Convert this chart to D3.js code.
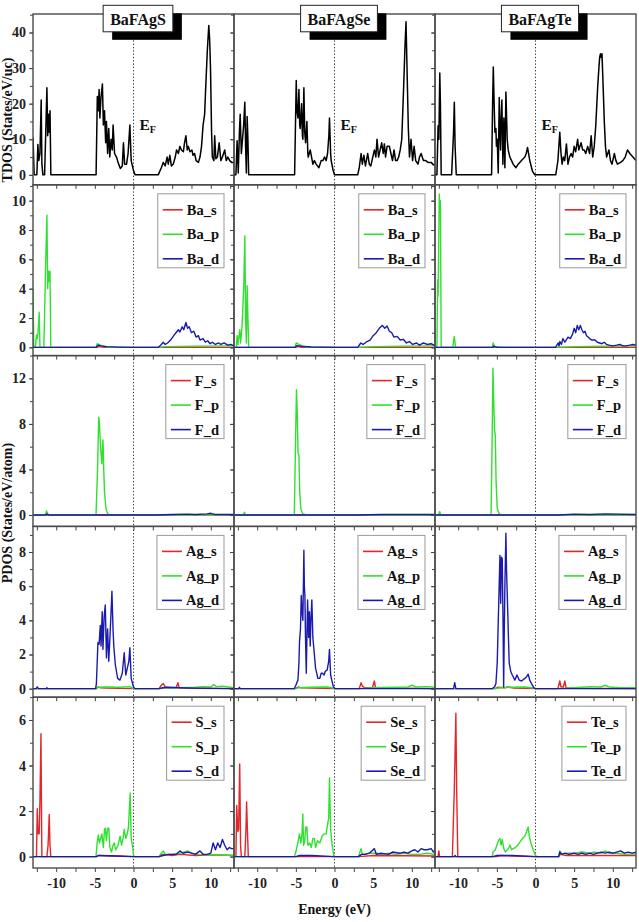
<!DOCTYPE html>
<html>
<head>
<meta charset="utf-8">
<script src="https://cdn.jsdelivr.net/npm/d3@7"></script>
<style>
  body { margin: 0; background: #fff; }
  text { font-family: "Liberation Serif", "Times New Roman", serif; font-weight: bold; }
</style>
</head>
<body>
<div id="chart"></div>
<script>
// compounds / columns
const compounds = ['BaFAgS', 'BaFAgSe', 'BaFAgTe'];
const energyTicks = [-10, -5, 0, 5, 10];
const energyMinor = [-12.5, -10, -7.5, -5, -2.5, 0, 2.5, 5, 7.5, 10, 12.5];

// y axis per row
const rowYDomains = [[-2.8, 45.2], [-0.56, 11.08], [-1, 14], [-0.5, 9.5], [-0.5, 7]];
const rowYTicks = [[0, 10, 20, 30, 40], [0, 2, 4, 6, 8, 10], [0, 4, 8, 12], [0, 2, 4, 6, 8], [0, 2, 4, 6]];
const rowYMinorStep = [5, 1, 2, 1, 1];

// element names for legend
const rowElements = [null, ['Ba', 'Ba', 'Ba'], ['F', 'F', 'F'], ['Ag', 'Ag', 'Ag'], ['S', 'Se', 'Te']];

const zeroLine = [[-13, 0], [13, 0]];

// ---- TDOS (States/eV/uc) ----
const tdosS = [[-13,10.5],[-12.85,0],[-12.5,0],[-12.37,8.5],[-12.25,4],[-12.1,6],[-11.94,21],[-11.85,3],[-11.72,0],[-11.5,0],[-11.35,12],[-11.2,24.5],[-11.1,11],[-11.0,17],[-10.9,12],[-10.8,18],[-10.69,0],[-4.84,0],[-4.68,22],[-4.55,18],[-4.45,24],[-4.35,16],[-4.2,22],[-4.02,25.5],[-3.9,14],[-3.75,18],[-3.6,9],[-3.5,15],[-3.35,6],[-3.2,13],[-3.07,5],[-2.9,10],[-2.75,7],[-2.64,14],[-2.45,6],[-2.2,5],[-2.0,3.5],[-1.7,1.8],[-1.45,2.5],[-1.3,9],[-1.15,3],[-0.9,3],[-0.7,6],[-0.47,14],[-0.3,4],[0,1.2],[0.2,0],[3.2,0],[3.6,2],[3.85,3.5],[4.1,2.5],[4.35,5],[4.5,3],[4.7,5.5],[4.9,2.5],[5.14,3],[5.4,5],[5.57,7],[5.8,6],[6.0,8],[6.2,7],[6.45,6.5],[6.6,9],[6.78,11],[6.95,7],[7.1,8],[7.3,6.5],[7.55,7],[7.7,5.5],[7.9,6],[8.1,4],[8.4,3.5],[8.6,5],[8.8,8],[9.0,14],[9.2,17],[9.35,25],[9.55,35],[9.74,42],[9.85,38],[9.96,30],[10.1,12],[10.2,5],[10.4,4],[10.5,11],[10.65,4.5],[10.85,5],[11.08,9],[11.3,4],[11.5,5],[11.8,7],[12.0,4],[12.2,5],[12.45,4],[12.7,3.5],[13,3.5]];
const tdosSe = [[-13,0],[-12.75,0],[-12.6,9.6],[-12.45,0.5],[-12.3,12],[-12.2,17],[-12.05,6],[-11.9,10],[-11.75,14],[-11.6,20.4],[-11.5,8],[-11.4,0.5],[-11.3,16.4],[-11.2,10],[-11.1,0],[-5.16,0],[-4.95,26.5],[-4.85,18],[-4.73,16],[-4.6,24],[-4.5,14],[-4.43,13],[-4.26,20],[-4.15,11],[-4.09,10],[-3.96,24.5],[-3.85,12],[-3.74,9],[-3.57,15],[-3.45,6],[-3.4,5],[-3.14,7],[-2.8,3],[-2.6,4],[-2.37,3],[-2.02,2],[-1.72,4],[-1.5,4],[-1.29,5],[-1.08,4],[-0.9,6],[-0.73,11],[-0.65,16],[-0.5,6],[-0.43,4],[-0.2,1.5],[0,0],[3.0,0],[3.2,2],[3.44,6],[3.6,3],[3.8,5.5],[4.0,2.5],[4.3,6],[4.5,3],[4.7,2.5],[4.9,4.5],[5.16,7],[5.35,5],[5.5,10],[5.7,5],[5.9,7],[6.1,9],[6.3,6],[6.45,8.7],[6.6,5],[6.8,8],[7.1,8],[7.3,6],[7.5,4],[7.7,7],[7.9,4],[8.1,4],[8.3,5],[8.5,7],[8.7,10],[8.95,25],[9.1,35],[9.25,43],[9.4,28],[9.55,13],[9.7,5],[9.9,10],[10.1,4],[10.3,8],[10.5,4],[10.8,3],[11.0,5],[11.2,6],[11.5,4],[11.8,4],[12.1,3.5],[12.5,3.5],[12.8,2.8],[13,3]];
const tdosTe = [[-13,0],[-12.75,0],[-12.6,13.8],[-12.5,10],[-12.38,28.6],[-12.3,20],[-12.2,0],[-10.85,0],[-10.6,12],[-10.5,20.4],[-10.4,8],[-10.25,0],[-5.68,0],[-5.55,20],[-5.46,30.3],[-5.35,20],[-5.25,12],[-5.12,13],[-5.05,8],[-4.95,10],[-4.82,0.5],[-4.69,21.7],[-4.6,12],[-4.52,7],[-4.45,15],[-4.35,21],[-4.22,3],[-4.09,16],[-3.96,2],[-3.83,23.3],[-3.66,10],[-3.53,7],[-3.32,5],[-3.1,4],[-2.89,3],[-2.54,2],[-2.24,3],[-1.81,4],[-1.6,4.5],[-1.38,5],[-1.2,6],[-1.03,7.7],[-0.9,6],[-0.74,4],[-0.39,1],[-0.09,0],[2.62,0],[2.9,4],[3.14,12],[3.3,6],[3.44,3],[3.6,5],[3.78,4],[4.0,8.7],[4.2,3],[4.4,5],[4.6,6],[4.8,5],[5.0,8],[5.2,6.5],[5.45,10],[5.6,7],[5.9,9],[6.1,7],[6.3,7],[6.5,6],[6.75,8],[7.0,6],[7.2,11],[7.4,5],[7.6,8],[7.8,14],[8.05,25],[8.2,30],[8.3,33],[8.4,34],[8.5,33],[8.6,34],[8.7,28],[8.9,15],[9.05,8],[9.2,5],[9.5,7],[9.7,4],[9.9,3],[10.2,6],[10.4,4],[10.6,3],[11.0,3.5],[11.3,4],[11.6,5],[11.9,7],[12.2,6],[12.6,5],[13,4]];

// ---- Ba PDOS ----
const baS_s = [[-13,0],[-4.8,0],[-4.5,0.05],[-3.8,0],[13,0]];
const baS_p = [[-13,4],[-12.9,0],[-12.7,0],[-12.55,0.85],[-12.45,0.6],[-12.35,1.0],[-12.2,2.4],[-12.1,0],[-11.6,0],[-11.5,2.2],[-11.35,6],[-11.2,9],[-11.1,4],[-11.0,5.2],[-10.9,4.5],[-10.8,5.2],[-10.7,0],[-4.85,0],[-4.7,0.25],[-4.3,0.15],[-3.6,0.05],[-3.3,0],[3.3,0],[4,0.05],[8,0.08],[13,0.1]];
const baS_d = [[-13,0],[-4.8,0],[-4.6,0.15],[-4.2,0.1],[-3.5,0.05],[-2,0.02],[0,0],[3.2,0],[3.6,0.2],[3.85,0.35],[4.1,0.2],[4.4,0.3],[4.8,0.5],[5.2,0.8],[5.5,1.0],[5.8,1.2],[6.0,1.05],[6.3,1.4],[6.5,1.2],[6.78,1.7],[7.0,1.3],[7.2,1.4],[7.5,1.0],[7.8,1.1],[8.1,0.7],[8.4,0.8],[8.6,0.5],[9.0,0.6],[9.3,0.35],[9.6,0.45],[9.9,0.25],[10.2,0.35],[10.6,0.2],[11.0,0.3],[11.3,0.2],[11.7,0.3],[12.2,0.15],[12.6,0.2],[13,0.1]];
const baSe_s = [[-13,0],[-5,0],[-4.8,0.05],[-4.2,0],[13,0]];
const baSe_p = [[-13,0],[-12.7,0],[-12.6,0.8],[-12.5,0.2],[-12.25,1.2],[-12.15,0.3],[-11.95,1.5],[-11.75,4],[-11.6,7.6],[-11.5,2],[-11.4,0.3],[-11.3,4.2],[-11.2,2],[-11.1,0],[-5.1,0],[-4.95,0.3],[-4.6,0.2],[-4.0,0.05],[-3.5,0],[3,0],[5,0.05],[9,0.08],[13,0.1]];
const baSe_d = [[-13,0],[-5.1,0],[-4.9,0.12],[-4.3,0.08],[-3,0.03],[0,0],[3.0,0],[3.4,0.3],[3.7,0.2],[4.2,0.4],[4.6,0.5],[5.0,0.8],[5.4,1.0],[5.8,1.3],[6.2,1.5],[6.5,1.3],[6.8,1.45],[7.1,1.1],[7.4,1.0],[7.7,0.7],[8.1,0.75],[8.5,0.5],[8.9,0.55],[9.3,0.3],[9.7,0.4],[10.1,0.2],[10.6,0.3],[11.0,0.15],[11.5,0.3],[12.0,0.2],[12.5,0.25],[13,0.1]];
const baTe_s = [[-13,0],[-5.5,0],[-5.3,0.04],[-5.0,0],[13,0]];
const baTe_p = [[-13,0],[-12.75,0],[-12.65,4.6],[-12.6,3.5],[-12.5,8],[-12.45,10.45],[-12.38,9.5],[-12.3,10.0],[-12.2,0],[-10.7,0],[-10.5,0.75],[-10.35,0],[-5.6,0],[-5.47,0.3],[-5.3,0.05],[-4.0,0],[2.6,0],[5,0.05],[9,0.08],[13,0.1]];
const baTe_d = [[-13,0],[-5.5,0],[-5.4,0.08],[-5.0,0],[2.6,0],[2.92,0.3],[3.05,0.1],[3.15,0.4],[3.35,0.2],[3.55,0.6],[3.8,0.35],[4.2,0.7],[4.5,0.6],[4.8,0.9],[5.0,1.3],[5.2,1.0],[5.4,1.5],[5.6,1.2],[5.8,1.5],[6.0,1.2],[6.2,1.0],[6.4,1.1],[6.6,0.8],[6.8,0.7],[7.0,0.6],[7.3,0.5],[7.7,0.5],[8.0,0.35],[8.3,0.3],[8.6,0.25],[8.9,0.35],[9.2,0.2],[9.5,0.15],[10.0,0.1],[10.5,0.15],[10.9,0.2],[11.3,0.1],[11.75,0.1],[12.2,0.15],[12.6,0.2],[13,0.15]];

// ---- F PDOS ----
const fS_p = [[-13,0],[-11.4,0],[-11.25,0.35],[-11.1,0.1],[-10.9,0],[-4.85,0],[-4.65,4],[-4.5,8.6],[-4.4,8],[-4.3,6.5],[-4.2,5.5],[-4.1,4.5],[-3.95,6.6],[-3.85,4],[-3.75,2],[-3.6,0.8],[-3.5,0.4],[-3.3,0.1],[-3.0,0],[13,0]];
const fS_d = [[-13,0],[-11.3,0],[-11.2,0.1],[-11,0],[0,0],[3,0],[5,0.05],[7,0.08],[8,0.05],[9.5,0.1],[10,0.15],[10.5,0.05],[13,0.05]];
const fSe_p = [[-13,0],[-11.8,0],[-11.65,0.25],[-11.5,0],[-5.2,0],[-5.05,6],[-4.92,11],[-4.82,9],[-4.72,5.5],[-4.6,5.2],[-4.5,2],[-4.35,0.5],[-4.1,0.1],[-3.5,0],[13,0]];
const fSe_d = [[-13,0],[0,0],[3,0],[6,0.05],[9,0.05],[13,0.05]];
const fTe_p = [[-13,0],[-12.55,0],[-12.4,0.3],[-12.25,0],[-5.75,0],[-5.62,6],[-5.5,12.9],[-5.4,10],[-5.3,7.5],[-5.2,7],[-5.1,3],[-4.95,0.6],[-4.7,0.1],[-4.3,0],[13,0]];
const fTe_d = [[-13,0],[0,0],[3,0],[5,0.08],[7,0.05],[9,0.1],[13,0.05]];

// ---- Ag PDOS ----
const agS_s = [[-13,0],[-4.8,0],[-4.6,0.1],[-4.3,0.05],[-3.5,0.03],[0,0],[3.3,0],[3.6,0.2],[3.85,0.3],[4.1,0.1],[4.6,0.05],[5.5,0.05],[5.75,0.35],[5.9,0.05],[7,0.02],[13,0]];
const agS_p = [[-13,0],[-4.8,0],[-4.6,0.08],[-3.5,0.1],[-2,0.08],[-0.5,0.12],[0,0],[3.3,0],[4,0.03],[6,0.05],[8,0.08],[9,0.12],[10,0.1],[10.4,0.25],[10.7,0.12],[11.5,0.15],[12.5,0.08],[13,0.05]];
const agS_d = [[-13,0],[-12.6,0],[-12.45,0.1],[-12.3,0],[-11.3,0],[-11.2,0.05],[-11.1,0],[-4.9,0],[-4.8,0.3],[-4.6,2.7],[-4.45,2.6],[-4.3,3.7],[-4.2,2.5],[-4.05,4.5],[-3.95,2.3],[-3.8,4.2],[-3.65,4.9],[-3.5,1.8],[-3.35,3.5],[-3.2,1.6],[-3.05,3.0],[-2.9,4.5],[-2.79,5.7],[-2.65,3.5],[-2.55,2.5],[-2.35,1.4],[-2.05,0.6],[-1.75,0.5],[-1.45,0.9],[-1.2,2.1],[-1.0,0.8],[-0.8,1.2],[-0.6,1.6],[-0.47,2.4],[-0.3,0.6],[0,0.1],[0.2,0],[3.3,0],[3.8,0.05],[4.5,0.08],[6,0.05],[8,0.03],[13,0]];
const agSe_s = [[-13,0],[-5,0],[-4.7,0.1],[-4.3,0.05],[-3,0.03],[0,0],[3.2,0],[3.44,0.35],[3.6,0.15],[3.9,0.05],[4.9,0.05],[5.16,0.45],[5.3,0.05],[13,0]];
const agSe_p = [[-13,0],[-5,0],[-4.7,0.05],[-3,0.08],[-1,0.1],[-0.3,0.05],[0,0],[3.2,0],[5,0.05],[8,0.08],[9.5,0.1],[10,0.2],[10.5,0.1],[12,0.12],[13,0.08]];
const agSe_d = [[-13,0],[-12.4,0],[-12.3,0.08],[-12.2,0],[-5.2,0],[-5.0,0.2],[-4.73,0.5],[-4.6,1.5],[-4.52,2.8],[-4.4,3.5],[-4.3,5.45],[-4.2,4.5],[-4.09,4],[-3.96,8.1],[-3.9,6],[-3.83,5.5],[-3.75,3],[-3.65,0.9],[-3.55,3.5],[-3.48,5.2],[-3.35,3],[-3.25,4.5],[-3.14,2.5],[-3.05,4],[-2.93,5.2],[-2.8,3],[-2.7,2.5],[-2.45,1.2],[-2.15,0.6],[-1.9,0.6],[-1.72,0.9],[-1.55,0.9],[-1.35,0.8],[-1.2,1.0],[-0.95,1.1],[-0.75,1.6],[-0.65,2.3],[-0.5,0.8],[-0.3,0.4],[-0.13,0.1],[0.1,0],[13,0]];
const agTe_s = [[-13,0],[-5.2,0],[-4.9,0.08],[-4.0,0.05],[-3.5,0.1],[-2.8,0.03],[0,0],[2.9,0],[3.14,0.45],[3.3,0.1],[3.6,0.1],[3.8,0.45],[3.95,0.05],[5,0.02],[13,0]];
const agTe_p = [[-13,0],[-5.2,0],[-4.6,0.05],[-3,0.08],[-1.5,0.1],[-0.5,0.05],[0,0],[3,0],[5,0.05],[6.5,0.1],[7,0.12],[8.5,0.1],[9,0.2],[9.5,0.1],[11,0.05],[13,0.05]];
const agTe_d = [[-13,0],[-10.6,0],[-10.45,0.35],[-10.3,0],[-5.6,0],[-5.3,0.1],[-5.12,0.3],[-4.95,1.5],[-4.82,3.9],[-4.7,6],[-4.6,7.8],[-4.5,5],[-4.4,7.7],[-4.3,7.6],[-4.2,4],[-4.12,0.1],[-4.05,3],[-3.96,6],[-3.83,9.1],[-3.75,7],[-3.62,5],[-3.5,3],[-3.4,1.5],[-3.2,1.0],[-3.0,0.8],[-2.67,0.5],[-2.4,0.8],[-2.1,0.5],[-1.8,0.45],[-1.38,0.6],[-1.15,0.7],[-0.95,0.85],[-0.75,0.5],[-0.52,0.3],[-0.2,0.05],[0,0],[13,0]];

// ---- chalcogen PDOS ----
const sS_s = [[-13,0],[-12.55,0],[-12.45,2.1],[-12.35,1.0],[-12.2,1.0],[-12.1,2.5],[-11.97,5.4],[-11.9,2],[-11.85,0],[-11.2,0],[-11.05,0.5],[-10.9,1.85],[-10.8,0.5],[-10.7,0],[-4.8,0],[-4.5,0.05],[-3,0.03],[0,0],[3.3,0],[3.7,0.1],[5,0.05],[6,0.1],[8,0.05],[10,0.08],[13,0.05]];
const sS_p = [[-13,0],[-4.85,0],[-4.7,0.6],[-4.55,0.95],[-4.4,0.6],[-4.25,0.8],[-4.1,1.0],[-3.9,0.4],[-3.75,1.2],[-3.65,1.25],[-3.5,0.7],[-3.35,1.25],[-3.2,1.25],[-3.05,0.4],[-2.85,0.2],[-2.65,0.5],[-2.5,0.6],[-2.3,0.3],[-2.0,0.5],[-1.74,0.9],[-1.55,0.5],[-1.35,0.8],[-1.2,1.2],[-1.0,0.8],[-0.8,1.0],[-0.65,1.3],[-0.43,2.8],[-0.3,0.8],[-0.1,0.4],[0,0.05],[0.2,0],[3.3,0],[3.6,0.15],[3.85,0.25],[4.1,0.1],[5,0.1],[6,0.15],[7.0,0.25],[7.5,0.15],[8.5,0.1],[10,0.08],[13,0.05]];
const sS_d = [[-13,0],[-4.8,0],[-4.5,0.05],[-2,0.03],[0,0],[3.3,0],[3.85,0.05],[4.5,0.1],[5,0.1],[5.5,0.1],[6,0.25],[6.4,0.15],[7,0.2],[7.5,0.15],[8,0.1],[8.6,0.25],[9,0.1],[9.5,0.1],[10,0.15],[10.3,0.6],[10.6,0.3],[10.9,0.6],[11.2,0.4],[11.5,0.75],[11.8,0.5],[12.1,0.3],[12.4,0.4],[12.7,0.35],[13,0.35]];
const seSe_s = [[-13,0],[-12.75,0],[-12.65,2.25],[-12.5,1.1],[-12.4,1.2],[-12.26,4.07],[-12.15,0.5],[-12.05,0],[-11.6,0],[-11.45,1.2],[-11.37,2.4],[-11.25,1.0],[-11.15,0],[0,0],[3.2,0],[5,0.05],[13,0.03]];
const seSe_p = [[-13,0],[-5.2,0],[-5.0,0.2],[-4.75,0.6],[-4.52,1.0],[-4.35,0.6],[-4.2,1.0],[-4.1,1.87],[-4.0,0.5],[-3.85,0.7],[-3.7,1.3],[-3.57,1.3],[-3.45,0.5],[-3.2,0.6],[-3.0,0.4],[-2.8,0.8],[-2.6,0.8],[-2.45,0.4],[-2.2,0.7],[-1.9,0.6],[-1.6,0.9],[-1.3,1.0],[-1.08,1.0],[-0.9,1.4],[-0.75,1.7],[-0.65,3.45],[-0.5,1.2],[-0.3,0.5],[-0.1,0.05],[0.1,0],[3.1,0],[3.44,0.35],[3.6,0.1],[4.5,0.15],[5.5,0.15],[6,0.1],[7,0.15],[8,0.1],[9,0.15],[10,0.1],[11,0.1],[12,0.15],[13,0.1]];
const seSe_d = [[-13,0],[-5,0],[-4.5,0.05],[-3,0.05],[0,0],[3.1,0],[3.5,0.1],[4,0.1],[4.5,0.15],[5.16,0.35],[5.4,0.1],[6,0.15],[7,0.1],[7.5,0.2],[8.5,0.15],[9,0.2],[9.5,0.15],[10,0.25],[10.4,0.3],[10.8,0.2],[11.2,0.35],[11.6,0.3],[12.0,0.3],[12.5,0.35],[12.8,0.2],[13,0.3]];
const teTe_s = [[-13,0],[-12.6,0],[-12.5,0.25],[-12.4,0],[-10.75,0],[-10.5,3],[-10.3,6.3],[-10.2,3],[-10.05,0],[-5,0],[-4.5,0.05],[-3,0.03],[0,0],[3,0],[3.2,0.1],[4,0.05],[13,0.05]];
const teTe_p = [[-13,0],[-5.6,0],[-5.5,0.2],[-5.2,0.3],[-5.0,0.5],[-4.8,0.7],[-4.6,0.8],[-4.45,0.5],[-4.3,0.75],[-4.1,0.35],[-3.9,0.2],[-3.6,0.3],[-3.3,0.5],[-3.1,0.3],[-2.9,0.35],[-2.6,0.4],[-2.3,0.5],[-2.1,0.6],[-1.8,0.75],[-1.55,0.85],[-1.38,0.9],[-1.15,1.1],[-0.95,1.3],[-0.8,0.9],[-0.6,0.6],[-0.3,0.3],[0,0.05],[0.2,0],[3,0],[3.14,0.25],[3.4,0.1],[4,0.15],[5,0.15],[6,0.2],[7.0,0.15],[7.5,0.2],[8.5,0.15],[9,0.25],[9.5,0.15],[10.5,0.15],[11.5,0.1],[13,0.12]];
const teTe_d = [[-13,0],[-10.5,0],[-10.4,0.05],[-10.3,0],[-5.5,0],[-5,0.05],[-3,0.05],[0,0],[3,0],[3.14,0.2],[3.4,0.1],[3.8,0.15],[4.3,0.1],[5,0.15],[5.5,0.1],[6,0.15],[6.5,0.1],[7,0.15],[7.5,0.1],[8,0.15],[8.5,0.2],[9,0.15],[9.5,0.2],[10,0.15],[10.5,0.2],[11,0.25],[11.5,0.15],[12,0.2],[12.5,0.15],[13,0.2]];

// rows x columns table
const tdosTable = [tdosS, tdosSe, tdosTe];
const pdosTable = [
    null,
    [[baS_s, baS_p, baS_d], [baSe_s, baSe_p, baSe_d], [baTe_s, baTe_p, baTe_d]],
    [[zeroLine, fS_p, fS_d], [zeroLine, fSe_p, fSe_d], [zeroLine, fTe_p, fTe_d]],
    [[agS_s, agS_p, agS_d], [agSe_s, agSe_p, agSe_d], [agTe_s, agTe_p, agTe_d]],
    [[sS_s, sS_p, sS_d], [seSe_s, seSe_p, seSe_d], [teTe_s, teTe_p, teTe_d]]
];
const orbitals = ['s', 'p', 'd'];
const orbitalColors = ['#e3262a', '#2fe02f', '#1a1aae'];

const W = 639, H = 922;
const plotLeft = 33, plotTop = 14;
const colW = 201, rowH = 170.8;

const svg = d3.select('#chart').append('svg')
    .attr('width', W)
    .attr('height', H);

svg.append('rect').attr('width', W).attr('height', H).attr('fill', '#fff');

const x = d3.scaleLinear().domain([-13, 13]).range([0, colW]);

function minorTicks(domain, step) {
    const out = [];
    for (let v = Math.ceil(domain[0] / step) * step; v <= domain[1]; v += step) out.push(+v.toFixed(3));
    return out;
}

for (let r = 0; r < 5; r++) {
    const y = d3.scaleLinear().domain(rowYDomains[r]).range([rowH, 0]);
    for (let c = 0; c < 3; c++) {
        const g = svg.append('g')
            .attr('transform', `translate(${plotLeft + c * colW}, ${plotTop + r * rowH})`);

        g.append('clipPath').attr('id', `clip-${r}-${c}`)
            .append('rect').attr('width', colW).attr('height', rowH);

        // fermi level
        g.append('line')
            .attr('x1', x(0)).attr('x2', x(0))
            .attr('y1', 0).attr('y2', rowH)
            .attr('stroke', '#333')
            .attr('stroke-width', 1)
            .attr('stroke-dasharray', '1.3,2');

        const line = d3.line().x(d => x(d[0])).y(d => y(d[1]));
        const plot = g.append('g').attr('clip-path', `url(#clip-${r}-${c})`);

        if (r === 0) {
            plot.append('path')
                .datum(tdosTable[c])
                .attr('d', line)
                .attr('fill', 'none')
                .attr('stroke', '#000')
                .attr('stroke-width', 1.5)
                .attr('stroke-linejoin', 'round');
        } else {
            pdosTable[r][c].forEach((series, k) => {
                plot.append('path')
                    .datum(series)
                    .attr('d', line)
                    .attr('fill', 'none')
                    .attr('stroke', orbitalColors[k])
                    .attr('stroke-width', 1.4)
                    .attr('stroke-linejoin', 'round');
            });
        }

        // x ticks at the bottom edge, pointing down
        g.append('g')
            .attr('transform', `translate(0, ${rowH})`)
            .call(d3.axisBottom(x).tickValues(energyMinor).tickSize(4).tickFormat(''))
            .call(a => a.select('.domain').remove());
        if (r === 4) {
            g.append('g')
                .attr('transform', `translate(0, ${rowH})`)
                .call(d3.axisBottom(x).tickValues(energyTicks).tickSize(0).tickPadding(10)
                    .tickFormat(d => d))
                .call(a => a.select('.domain').remove())
                .selectAll('text')
                .attr('font-size', 14)
                .attr('fill', '#222');
        }

        // y ticks on the left edge
        g.append('g')
            .call(d3.axisLeft(y).tickValues(minorTicks(rowYDomains[r], rowYMinorStep[r])).tickSize(3).tickFormat(''))
            .call(a => a.select('.domain').remove());
        const yMajor = g.append('g')
            .call(d3.axisLeft(y).tickValues(rowYTicks[r]).tickSize(4).tickPadding(3)
                .tickFormat(c === 0 ? (d => d) : ''))
            .call(a => a.select('.domain').remove());
        yMajor.selectAll('text').attr('font-size', 14).attr('fill', '#222');
        g.selectAll('.tick line').attr('stroke', '#444');

        // frame
        g.append('rect')
            .attr('width', colW).attr('height', rowH)
            .attr('fill', 'none')
            .attr('stroke', '#4a4a4a')
            .attr('stroke-width', 1.4);

        // legend
        if (r > 0) {
            const el = rowElements[r][c];
            const lg = g.append('g');
            const texts = orbitals.map((o, k) => lg.append('text')
                .attr('font-size', 14.5)
                .attr('fill', '#111')
                .text(`${el}_${o}`));
            const tw = d3.max(texts, t => t.node().getComputedTextLength());
            const boxW = 30 + tw + 4;
            const bx = colW - 10 - boxW, by = 9;
            lg.insert('rect', 'text')
                .attr('x', bx).attr('y', by)
                .attr('width', boxW).attr('height', 74)
                .attr('fill', '#fff')
                .attr('stroke', '#999')
                .attr('stroke-width', 1);
            orbitals.forEach((o, k) => {
                const ey = by + 16 + k * 24.5;
                lg.append('line')
                    .attr('x1', bx + 5).attr('x2', bx + 25)
                    .attr('y1', ey).attr('y2', ey)
                    .attr('stroke', orbitalColors[k])
                    .attr('stroke-width', 1.6);
                texts[k].attr('x', bx + 29).attr('y', ey + 5);
            });
        }

        // E_F label in top row
        if (r === 0) {
            const ef = g.append('text')
                .attr('x', x(0) + 6)
                .attr('y', 130 - plotTop)
                .attr('font-size', 15.5)
                .attr('fill', '#111');
            ef.append('tspan').text('E');
            ef.append('tspan').attr('font-size', 10).attr('dy', 3).text('F');
        }
    }
}

// compound titles with shadow boxes
compounds.forEach((name, c) => {
    const cx = plotLeft + c * colW + colW / 2 + 4.5;
    const t = svg.append('text')
        .attr('x', cx).attr('y', 24.5)
        .attr('text-anchor', 'middle')
        .attr('font-size', 16)
        .attr('fill', '#111')
        .text(name);
    const tw = t.node().getComputedTextLength();
    const bw = tw + 14, bh = 26.5;
    const bx = cx - bw / 2, by = 5.3;
    svg.insert('rect', () => t.node())
        .attr('x', bx + 9).attr('y', by + 8)
        .attr('width', bw).attr('height', bh)
        .attr('fill', '#000');
    svg.insert('rect', () => t.node())
        .attr('x', bx).attr('y', by)
        .attr('width', bw).attr('height', bh)
        .attr('fill', '#fff')
        .attr('stroke', '#222')
        .attr('stroke-width', 1);
});

// axis titles
svg.append('text')
    .attr('transform', 'translate(12, 120) rotate(-90)')
    .attr('text-anchor', 'middle')
    .attr('font-size', 14)
    .attr('fill', '#111')
    .text('TDOS (States/eV/uc)');

svg.append('text')
    .attr('transform', 'translate(12, 513) rotate(-90)')
    .attr('text-anchor', 'middle')
    .attr('font-size', 14)
    .attr('fill', '#111')
    .text('PDOS (States/eV/atom)');

svg.append('text')
    .attr('x', plotLeft + 1.5 * colW)
    .attr('y', 914)
    .attr('text-anchor', 'middle')
    .attr('font-size', 14)
    .attr('fill', '#111')
    .text('Energy (eV)');
</script>
</body>
</html>
